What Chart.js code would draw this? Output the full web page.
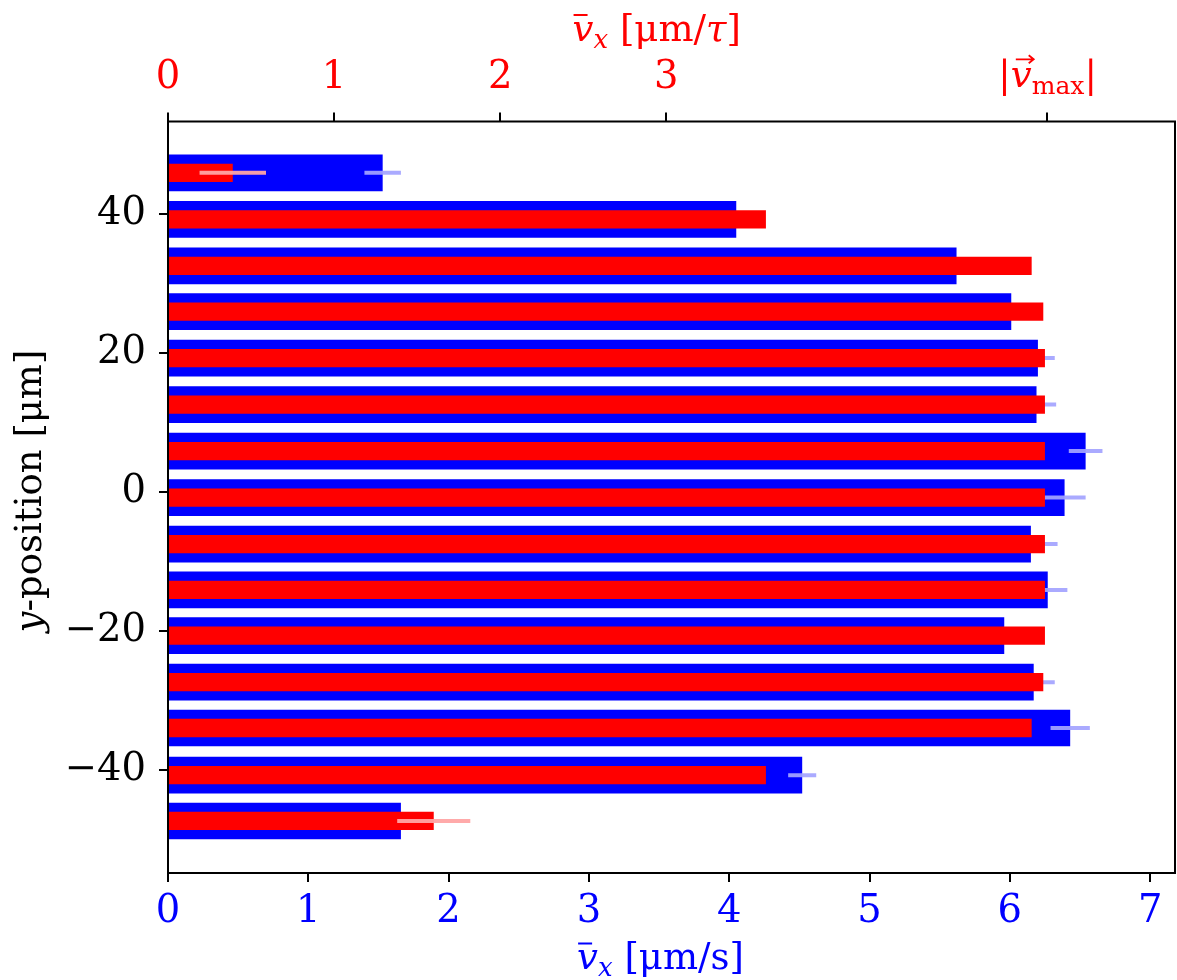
<!DOCTYPE html>
<html>
<head>
<meta charset="utf-8">
<script src="https://cdn.jsdelivr.net/npm/chart.js@4"></script>
<style>
html,body{margin:0;padding:0;background:#fff;}
#wrap{width:1177px;height:980px;position:relative;}
</style>
</head>
<body>
<div id="wrap"><canvas id="c"></canvas></div>
<script>
// ---- data ----
const yPositions = [46.0, 39.3, 32.6, 26.0, 19.3, 12.6, 5.9, -0.8, -7.5, -14.1, -20.7, -27.4, -34.0, -40.8, -47.4];
const blueValues = [1.53, 4.05, 5.62, 6.01, 6.20, 6.19, 6.54, 6.39, 6.15, 6.27, 5.96, 6.17, 6.43, 4.52, 1.66];
const blueErrors = [0.13, 0.10, 0.10, 0.10, 0.12, 0.14, 0.12, 0.15, 0.19, 0.14, 0.10, 0.15, 0.14, 0.10, 0.10];
const redValues  = [0.39, 3.60, 5.20, 5.27, 5.28, 5.28, 5.28, 5.28, 5.28, 5.28, 5.28, 5.27, 5.20, 3.60, 1.60];
const redErrors  = [0.20, 0, 0, 0, 0, 0, 0, 0, 0, 0, 0, 0, 0, 0, 0.22];
const bottomTicks = [0, 1, 2, 3, 4, 5, 6, 7];
const topTicks = [0, 1, 2, 3];
const vMaxTick = 5.29;
const leftTicks = [-40, -20, 0, 20, 40];

const SERIF = 'DejaVu Serif';
const FS = 37;
const TFS = 38.5;

function drawRuns(c, runs, x, y, align) {
  let total = 0;
  runs.forEach(r => {
    c.font = `${r.style || 'normal'} ${r.size || FS}px '${SERIF}'`;
    r.w = c.measureText(r.t).width;
    total += r.w;
  });
  let cx = align === 'center' ? x - total / 2 : x;
  c.textAlign = 'left';
  c.textBaseline = 'alphabetic';
  runs.forEach(r => {
    c.font = `${r.style || 'normal'} ${r.size || FS}px '${SERIF}'`;
    c.fillText(r.t, cx, y + (r.dy || 0));
    r.x = cx;
    cx += r.w;
  });
  return runs;
}

const errorPlugin = {
  id: 'errbars',
  afterDatasetDraw(chart, args) {
    const isRed = args.index === 0;
    const vals = isRed ? redValues : blueValues;
    const errs = isRed ? redErrors : blueErrors;
    const xs = chart.scales[isRed ? 'x2' : 'x'];
    const ys = chart.scales.y;
    const c = chart.ctx;
    const a = chart.chartArea;
    c.save();
    c.beginPath();
    c.rect(a.left, a.top, a.right - a.left, a.bottom - a.top);
    c.clip();
    c.strokeStyle = isRed ? 'rgba(255,165,165,0.95)' : 'rgba(164,164,255,0.93)';
    c.lineWidth = 4;
    c.lineCap = 'butt';
    yPositions.forEach((p, i) => {
      if (!errs[i]) return;
      const py = ys.getPixelForValue(p);
      c.beginPath();
      c.moveTo(xs.getPixelForValue(vals[i] - errs[i]), py);
      c.lineTo(xs.getPixelForValue(vals[i] + errs[i]), py);
      c.stroke();
    });
    c.restore();
  }
};

const decorPlugin = {
  id: 'decor',
  beforeDraw(chart) {
    const c = chart.ctx;
    c.save();
    c.fillStyle = '#fff';
    c.fillRect(0, 0, chart.width, chart.height);
    c.restore();
  },
  afterDraw(chart) {
    const c = chart.ctx;
    const a = chart.chartArea;
    c.save();
    // frame
    c.strokeStyle = '#000';
    c.lineWidth = 2;
    c.strokeRect(a.left, a.top, a.right - a.left, a.bottom - a.top);

    // top title
    c.fillStyle = '#ff0000';
    c.strokeStyle = '#ff0000';
    let r = drawRuns(c, [
      {t: 'v', style: 'italic'},
      {t: 'x', style: 'italic', size: 26, dy: 7},
      {t: ' [\u03bcm/'},
      {t: '\u03c4', style: 'italic'},
      {t: ']'}
    ], 656.7, 40.5, 'center');
    c.lineWidth = 2;
    c.beginPath();
    c.moveTo(r[0].x + 1, 40.5 - 25.5);
    c.lineTo(r[0].x + 15, 40.5 - 25.5);
    c.stroke();

    // bottom title
    c.fillStyle = '#0000ff';
    c.strokeStyle = '#0000ff';
    r = drawRuns(c, [
      {t: 'v', style: 'italic'},
      {t: 'x', style: 'italic', size: 26, dy: 7},
      {t: ' [\u03bcm/s]'}
    ], 660.5, 969, 'center');
    c.beginPath();
    c.moveTo(r[0].x + 1, 969 - 25.5);
    c.lineTo(r[0].x + 15, 969 - 25.5);
    c.stroke();

    // left title
    c.fillStyle = '#000';
    c.save();
    c.translate(41.4, 491);
    c.rotate(-Math.PI / 2);
    drawRuns(c, [
      {t: 'y', style: 'italic'},
      {t: '-position [\u03bcm]'}
    ], 0, 0, 'center');
    c.restore();

    // |v_max| tick label on top axis
    const px = chart.scales.x2.getPixelForValue(vMaxTick);
    c.fillStyle = '#ff0000';
    c.strokeStyle = '#ff0000';
    const base = 87.3;
    r = drawRuns(c, [
      {t: '|'},
      {t: 'v', style: 'italic'},
      {t: 'max', size: 25, dy: 7},
      {t: '|'}
    ], px + 1, base, 'center');
    // arrow over v
    const ax0 = r[1].x + 5, ax1 = r[1].x + r[1].w + 2, ay = base - 28;
    c.lineWidth = 1.8;
    c.beginPath();
    c.moveTo(ax0, ay);
    c.lineTo(ax1, ay);
    c.moveTo(ax1 - 5, ay - 4);
    c.lineTo(ax1, ay);
    c.lineTo(ax1 - 5, ay + 4);
    c.stroke();
    c.restore();
  }
};

const tickGrid = {display: true, drawOnChartArea: false, drawTicks: true, tickLength: 9, color: '#000', lineWidth: 2, offset: false};

new Chart(document.getElementById('c'), {
  type: 'bar',
  data: {
    datasets: [
      {
        label: 'v_x [um/tau]',
        data: yPositions.map((y, i) => ({x: redValues[i], y: y})),
        xAxisID: 'x2', yAxisID: 'y',
        backgroundColor: '#ff0000',
        borderWidth: 0,
        barPercentage: 0.4,
        categoryPercentage: 1,
        grouped: false
      },
      {
        label: 'v_x [um/s]',
        data: yPositions.map((y, i) => ({x: blueValues[i], y: y})),
        xAxisID: 'x', yAxisID: 'y',
        backgroundColor: '#0000ff',
        borderWidth: 0,
        barPercentage: 0.8,
        categoryPercentage: 1,
        grouped: false
      }
    ]
  },
  options: {
    indexAxis: 'y',
    responsive: true,
    maintainAspectRatio: false,
    animation: false,
    layout: {padding: {left: 0, right: 2, top: 0, bottom: 0}},
    plugins: {legend: {display: false}, tooltip: {enabled: false}},
    scales: {
      y: {
        type: 'linear', position: 'left', min: -54.9, max: 53.4, offset: false,
        grid: tickGrid,
        border: {display: false},
        ticks: {
          font: {family: SERIF, size: TFS}, color: '#000', padding: 13, autoSkip: false,
          callback: v => v < 0 ? '\u2212' + Math.abs(v) : String(v)
        },
        afterBuildTicks: s => { s.ticks = leftTicks.map(v => ({value: v})); },
        afterFit: s => { s.width = 168; }
      },
      x: {
        type: 'linear', position: 'bottom', min: 0, max: 7.177,
        grid: tickGrid,
        border: {display: false},
        ticks: {
          font: {family: SERIF, size: TFS}, color: '#0000ff', padding: 6.6, autoSkip: false, maxRotation: 0,
          callback: v => String(v)
        },
        afterBuildTicks: s => { s.ticks = bottomTicks.map(v => ({value: v})); },
        afterFit: s => { s.height = 107; }
      },
      x2: {
        type: 'linear', position: 'top', min: 0, max: 6.063,
        grid: tickGrid,
        border: {display: false},
        ticks: {
          font: {family: SERIF, size: TFS}, color: '#ff0000', padding: 11, autoSkip: false, maxRotation: 0,
          callback: v => v === vMaxTick ? '' : String(v)
        },
        afterBuildTicks: s => { s.ticks = topTicks.concat([vMaxTick]).map(v => ({value: v})); },
        afterFit: s => { s.height = 121.5; }
      }
    }
  },
  plugins: [errorPlugin, decorPlugin]
});
</script>
</body>
</html>
